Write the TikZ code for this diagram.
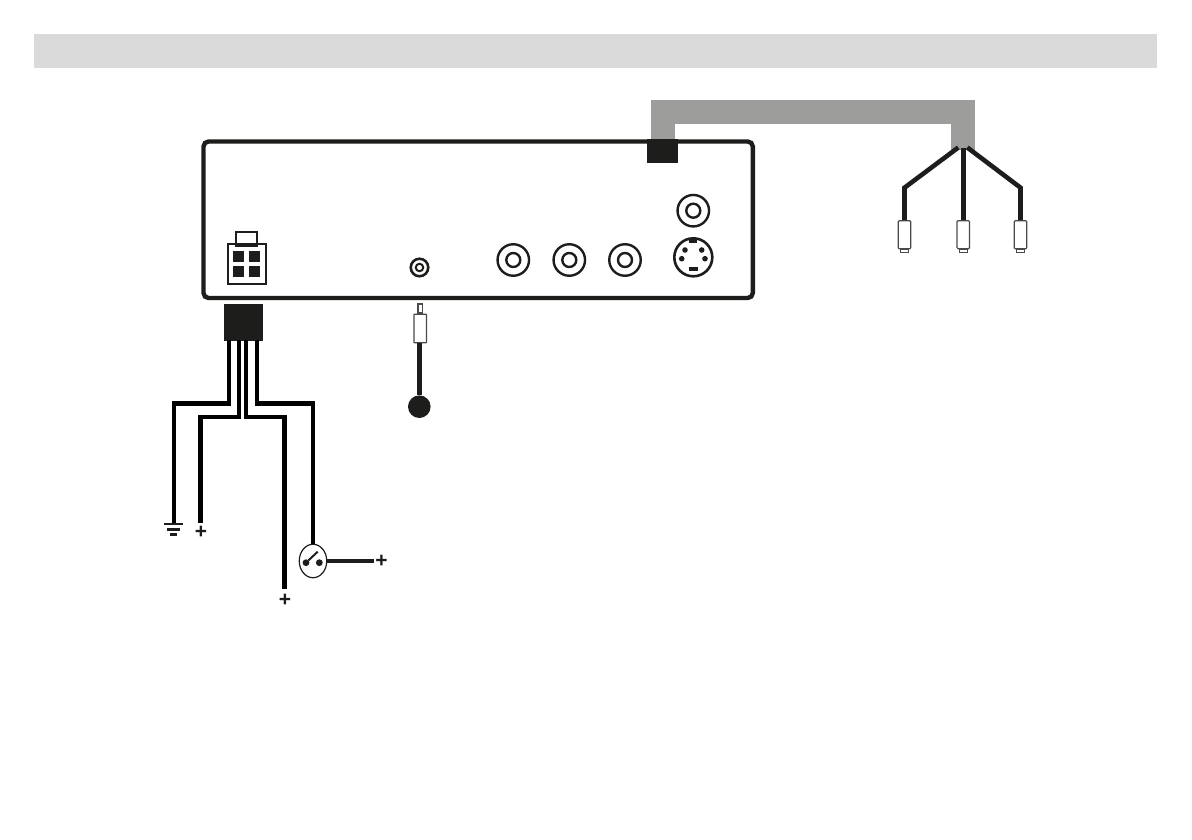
\documentclass[tikz,border=0pt]{standalone}
\usepackage{fontspec}
\setsansfont{Liberation Sans}
\usepackage{xcolor}
\definecolor{ddark}{HTML}{1D1D1B}
\definecolor{ggrey}{HTML}{9D9D9C}
\definecolor{bband}{HTML}{DADADA}
\usepackage{tikz}
\usetikzlibrary{calc}
\usetikzlibrary{positioning}
\usetikzlibrary{shapes.geometric}
\tikzset{
	block/.style={fill=ddark,inner sep=0pt,outer sep=0pt},
	wire/.style={line width=4.8pt,black},
	lead/.style={line width=4.6pt,ddark},
	cable/.style={line width=24pt,ggrey},
	ring/.style={circle,draw=ddark,inner sep=0pt},
	dot/.style={circle,fill=ddark,inner sep=0pt,outer sep=0pt},
	rcaplug/.style={draw=ddark!80,fill=white,line width=1.2pt,rounded corners=1pt,minimum width=12.5pt,minimum height=28pt,inner sep=0pt},
	plus/.style={inner sep=0pt,font=\sffamily\bfseries\fontsize{21}{21}\selectfont,text=ddark}
}
\begin{document}
\begin{tikzpicture}[x=1pt,y=-1pt]
	\useasboundingbox (0,0) rectangle (1192,840);
	\fill[bband] (34,34) rectangle (1157,68);
	% cable on top
	\node[block,minimum width=31pt,minimum height=24pt] (avplug) at (662.5,151) {};
	\coordinate (split) at (963,150);
	\draw[cable] (avplug.north) -- ++(0,-27) -| (split);
	% housing
	\draw[line width=4.4pt,ddark,rounded corners=5pt] (203.5,141.5) rectangle (752.8,298);
	\node[block,minimum width=31pt,minimum height=24pt] (avplugtop) at (662.5,151) {};
	% power socket
	\node[draw=ddark,line width=2.4pt,inner sep=0pt,minimum width=38pt,minimum height=40pt] (socket) at (247,264) {};
	\node[draw=ddark,line width=2.4pt,inner sep=0pt,minimum width=21pt,minimum height=13.5pt] (socktab) at (246.5,238.7) {};
	\foreach \x/\y/\n in {238.5/256.5/a,254.5/256.5/b,238.5/271.5/c,254.5/271.5/d}{
		\node[block,minimum size=11.4pt] (pin\n) at (\x,\y) {};
	}
	% sockets
	\node[ring,line width=2.6pt,minimum size=17.5pt] (mic) at (419.5,267.5) {};
	\node[ring,line width=2pt,minimum size=7.5pt] (micin) at (mic.center) {};
	\foreach \x/\y/\n in {513.3/260/a,569.3/260/b,625/260/c,693.3/210.7/d}{
		\node[ring,line width=2.4pt,minimum size=31.5pt] (rca\n) at (\x,\y) {};
		\node[ring,line width=2.4pt,minimum size=14pt] (rca\n in) at (rca\n.center) {};
	}
	\node[ring,line width=2.6pt,minimum size=38pt] (svideo) at (693.3,257.3) {};
	\foreach \x/\y/\n in {685/250/a,701.7/250/b,681.7/258.7/c,705/258.7/d}{
		\node[dot,minimum size=5.6pt] (sv\n) at (\x,\y) {};
	}
	\node[block,minimum width=8.4pt,minimum height=4pt] (svtop) at (693.2,241) {};
	\node[block,minimum width=9pt,minimum height=4.4pt] (svbot) at (693.3,268.7) {};
	% mic plug
	\node[rcaplug,minimum width=12.5pt,minimum height=28.5pt,rounded corners=0.5pt] (micbody) at (420.3,328.5) {};
	\node[draw=ddark!80,line width=1.2pt,inner sep=0pt,minimum width=4.6pt,minimum height=9pt,above=0pt of micbody.north] (mictip) {};
	\node[dot,minimum size=22.6pt] (micball) at (419.3,406.7) {};
	\draw[lead] (micbody.south -| micball) -- (micball);
	% harness
	\node[block,minimum width=39pt,minimum height=37pt] (harness) at (243.5,322.5) {};
	\coordinate (w1) at (229,340);
	\coordinate (w2) at (239,340);
	\coordinate (w3) at (246,340);
	\coordinate (w4) at (257,340);
	\coordinate (gnd) at (174,523);
	\coordinate (batt) at (200.5,522.7);
	\coordinate (acc) at (284.5,589);
	\node[ellipse,draw=ddark,line width=1.2pt,inner sep=0pt,minimum width=27.5pt,minimum height=33.5pt] (swtch) at (313,561) {};
	\coordinate (swend) at (374,561);
	\draw[wire] (w1) -- ++(0,63.5) -| (gnd);
	\draw[wire] (w2) -- ++(0,77) -| (batt);
	\draw[wire] (w3) -- ++(0,77) -| (acc);
	\draw[wire] (w4) -- ++(0,63.5) -| (swtch.north);
	\draw[lead] (swtch.east) -- (swend);
	% switch
	\node[dot,minimum size=6.8pt] (swa) at (306,562.7) {};
	\node[dot,minimum size=6.8pt] (swb) at (319.3,562.7) {};
	\draw[ddark,line width=2pt] (swa) -- (317.7,551.7);
	% ground
	\draw[ddark,line width=2.4pt] (164,524) -- (183,524);
	\draw[ddark,line width=2.8pt] (167,529.3) -- (180,529.3);
	\draw[ddark,line width=2.8pt] (170,534.2) -- (177,534.2);
	\node[plus] (plusa) at (201,532.5) {+};
	\node[plus] (plusb) at (285,600.5) {+};
	\node[plus] (plusc) at (381.5,561.5) {+};
	% rca plugs
	\foreach \x/\n in {904.5/a,963.3/b,1020.5/c}{
		\node[rcaplug] (plug\n) at (\x,234.7) {};
		\node[draw=ddark!80,line width=1pt,inner sep=0pt,minimum width=8.5pt,minimum height=2.6pt,below=-0.3pt of plug\n] (tip\n) {};
	}
	\coordinate (lefta) at (958.3,147.5);
	\coordinate (righta) at (967.3,147.5);
	\coordinate (midtop) at (963.3,148);
	\draw[lead] (lefta) -- (904.5,187.7) -- (pluga.north);
	\draw[lead] (midtop) -- (plugb.north);
	\draw[lead] (righta) -- (1020.5,187.7) -- (plugc.north);
\end{tikzpicture}
\end{document}
